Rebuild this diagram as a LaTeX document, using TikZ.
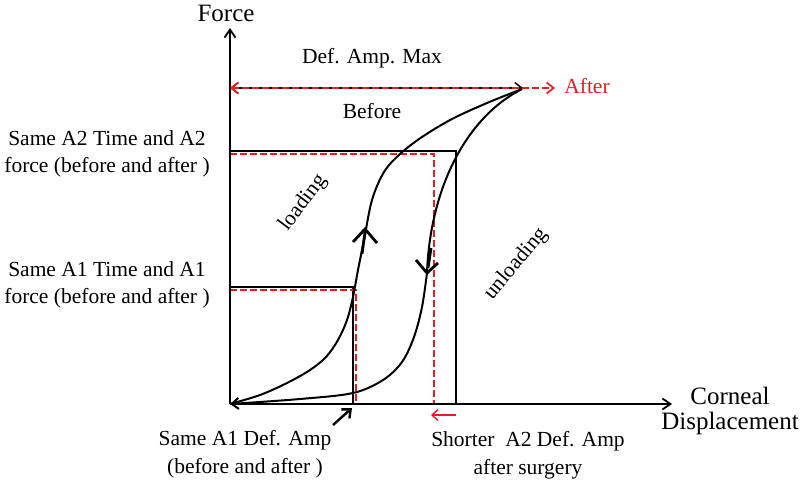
\documentclass[tikz,border=0pt]{standalone}
\usepackage{fontspec}
\setmainfont{Liberation Serif}
\usetikzlibrary{arrows.meta}
\definecolor{redc}{RGB}{230,30,34}
\begin{document}
\begin{tikzpicture}[x=1pt,y=-1pt,
  lbl/.style={font=\fontsize{21.5}{27.5}\selectfont, inner sep=0pt, align=center},
  big/.style={font=\fontsize{25}{25}\selectfont, inner sep=0pt, align=center},
  axis/.style={line width=1.8pt, -{Straight Barb[length=8pt,width=11pt]}},
  guide/.style={line width=1.3pt},
  rguide/.style={line width=1.7pt, redc, dash pattern=on 6.5pt off 3.5pt},
  curve/.style={line width=2pt},
  chev/.style={line width=2.8pt, line join=miter},
]
\useasboundingbox (0,0) rectangle (800,483);
\coordinate (O) at (230,404);
\coordinate (Ytop) at (230,28);
\coordinate (Xend) at (672,404);
\coordinate (T) at (522,89);
\coordinate (maxL) at (230,88);
\coordinate (maxB) at (523,88);
\coordinate (maxA) at (555,88);
\coordinate (U) at (427,273);

% guides
\draw[guide] (230,151) -- (456,151) -- (456,404);
\draw[guide] (230,287) -- (353,287) -- (353,404);
\draw[rguide] (230,154) -- (434,154) -- (434,404);
\draw[rguide] (230,290) -- (356,290) -- (356,404);

% axes
\draw[axis] (O) -- (Ytop);
\draw[axis] (O) -- (Xend);

% def amp max
\draw[line width=1.5pt, {Straight Barb[length=7pt,width=11pt]}-{Straight Barb[length=7pt,width=11pt]}] (maxL) -- (maxB);
\draw[rguide, {Straight Barb[length=7pt,width=11pt]}-{Straight Barb[length=7pt,width=11pt]}] (maxL) -- (maxA);

% loading curve
\draw[curve] plot[smooth, tension=0.55] coordinates {
  (230,404) (260,395) (287,383) (310,370) (326,357) (338,340) (347,320)
  (353,297) (358,270) (364,240) (372,200) (384,172) (400,154) (422,137)
  (452,119) (487,103) (T)};
% unloading curve
\draw[curve, -{Straight Barb[length=7pt,width=11pt]}]
  (T) .. controls (465,118) and (430,190) .. (U)
  -- plot[smooth, tension=0.55] coordinates {
  (U) (422,307) (414,337) (402,362) (383,380) (353,393) (300,399) (O)};

% direction arrows on curves
\draw[chev] (362,254) -- (365,232);
\draw[chev] (353,242) -- (365,229) -- (377,243);
\draw[chev] (431,248) -- (428,268);
\draw[chev] (416,260) -- (427,273) -- (438,263);

% small arrows on x axis
\draw[line width=2.4pt, -{Straight Barb[length=7pt,width=12pt]}] (333,425) -- (352,408);
\draw[redc, line width=1.4pt, -{Straight Barb[length=6pt,width=11pt]}] (456,415) -- (431,415);

% labels
\node[big] (force) at (226,13) {Force};
\node[lbl] (defmax) at (372,58) {Def. Amp. Max};
\node[lbl] (before) at (372,111) {Before};
\node[lbl, text=redc] (after) at (587,86) {After};
\node[lbl] (a2) at (107,154) {Same A2 Time and A2\\force (before and after )};
\node[lbl] (a1) at (107,285) {Same A1 Time and A1\\force (before and after )};
\node[lbl, rotate=53] (load) at (303,203) {loading};
\node[lbl, rotate=50] (unload) at (516,264) {unloading};
\node[lbl] (a1amp) at (245,454) {Same A1 Def. Amp\\(before and after )};
\node[lbl] (short) at (528,455) {Shorter\ \ A2 Def. Amp\\after surgery};
\node[big] (xlab) at (730,411) {Corneal\\Displacement};
\end{tikzpicture}
\end{document}
